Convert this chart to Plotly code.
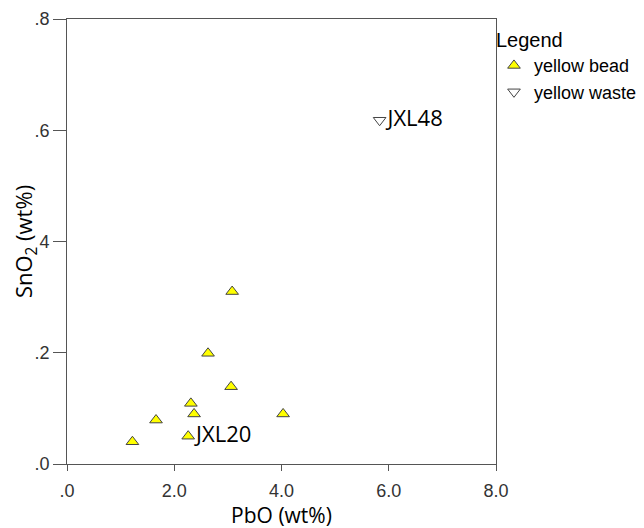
import plotly.graph_objects as go

bead_pbo = [1.22, 1.66, 2.26, 2.31, 2.37, 2.63, 3.06, 3.08, 4.03]
bead_sno2 = [0.04, 0.079, 0.05, 0.109, 0.09, 0.199, 0.139, 0.310, 0.09]
bead_labels = ["", "", "JXL20", "", "", "", "", "", ""]

waste_pbo = [5.83]
waste_sno2 = [0.618]
waste_labels = ["JXL48"]

x_ticks = [0, 2, 4, 6, 8]
x_ticktext = [".0", "2.0", "4.0", "6.0", "8.0"]
y_ticks = [0, 0.2, 0.4, 0.6, 0.8]
y_ticktext = [".0", ".2", "4", ".6", ".8"]

LABEL_FONT = dict(family="Open Sans, Noto Sans, sans-serif", size=22, color="#000")
TICK_FONT = dict(family="Liberation Sans, Arial, sans-serif", size=18, color="#333")
LEG_TITLE_FONT = dict(family="Liberation Sans, Arial, sans-serif", size=20, color="#000")
LEG_FONT = dict(family="Liberation Sans, Arial, sans-serif", size=18, color="#000")

fig = go.Figure()
fig.add_trace(go.Scatter(
    x=bead_pbo, y=bead_sno2, mode="markers+text", name="yellow bead",
    text=bead_labels, textposition="middle right", textfont=LABEL_FONT,
    marker=dict(symbol="triangle-up", size=11, color="#ffff00",
                line=dict(color="#444", width=1)),
))
fig.add_trace(go.Scatter(
    x=waste_pbo, y=waste_sno2, mode="markers+text", name="yellow waste",
    text=waste_labels, textposition="middle right", textfont=LABEL_FONT,
    marker=dict(symbol="triangle-down", size=11, color="#ffffff",
                line=dict(color="#444", width=1)),
))

axis_common = dict(showline=True, linecolor="#555", linewidth=1, mirror=True,
                   showgrid=False, zeroline=False, ticks="outside", tickcolor="#555",
                   tickfont=TICK_FONT)

fig.update_layout(
    width=644, height=528,
    margin=dict(l=59, r=156, t=11, b=72, autoexpand=False),
    paper_bgcolor="white", plot_bgcolor="white",
    showlegend=True,
    legend=dict(x=0.9953, y=0.995, xanchor="left", yanchor="top",
                title=dict(text="Legend", font=LEG_TITLE_FONT),
                font=LEG_FONT, itemwidth=30, tracegroupgap=0,
                bgcolor="rgba(0,0,0,0)"),
    xaxis=dict(range=[0, 8], tickvals=x_ticks, ticktext=x_ticktext, ticklen=6,
               ticklabelstandoff=4,
               title=dict(text="PbO (wt%)", standoff=0,
                          font=dict(family="Open Sans, Noto Sans, sans-serif", size=21, color="#000")),
               **axis_common),
    yaxis=dict(range=[0, 0.8], tickvals=y_ticks, ticktext=y_ticktext, ticklen=13,
               title=dict(text="SnO<sub>2</sub> (wt%)", standoff=4,
                          font=dict(family="Open Sans, Noto Sans, sans-serif", size=22, color="#000")),
               **axis_common),
)

fig.write_html("out.html")
